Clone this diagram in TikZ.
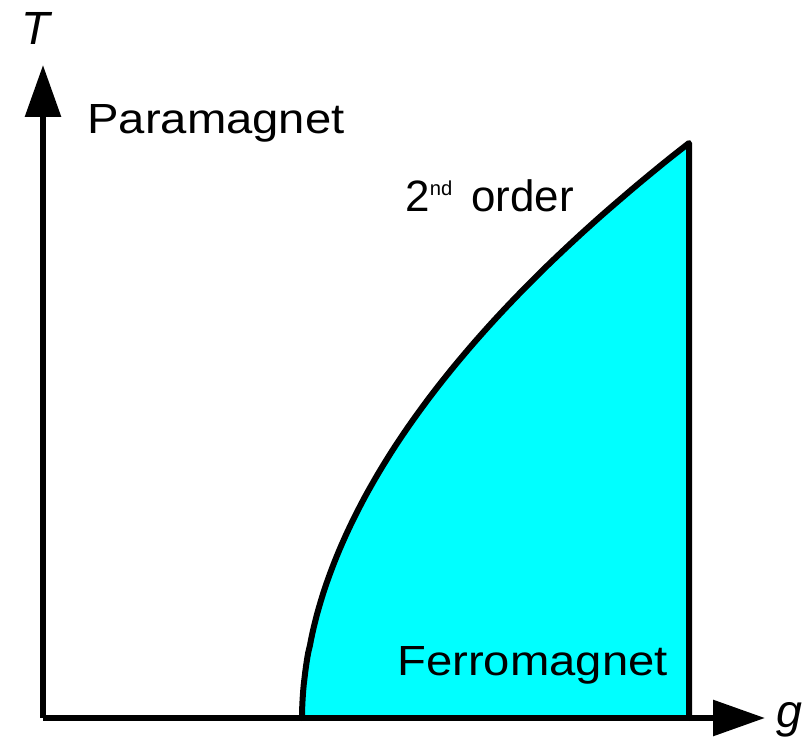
\documentclass[tikz,border=0pt]{standalone}
\usepackage{fontspec}
\setmainfont{Liberation Sans}
\usetikzlibrary{arrows.meta}
\definecolor{ferrocyan}{RGB}{0,255,255}
\tikzset{
  axis/.style={line width=0.12cm, -{Triangle[length=1.04cm,width=0.7cm]}},
  boundary/.style={line width=0.12cm, line join=round, line cap=round},
  phaselabel/.style={font=\fontsize{24}{27}\selectfont, xscale=1.12,
    inner sep=0pt, anchor=base west},
  orderlabel/.style={font=\fontsize{25}{28}\selectfont,
    inner sep=0pt, anchor=base west},
  axislabel/.style={font=\fontsize{26.5}{29}\selectfont\itshape,
    inner sep=0pt, anchor=base west}
}
\begin{document}
\begin{tikzpicture}[x=0.02cm, y=0.02cm]
  \useasboundingbox (0,0) rectangle (810,740);

  \coordinate (O) at (43,22);
  \coordinate (ymax) at (43,675);
  \coordinate (xmax) at (765,22);
  \coordinate (gc) at (302,22);
  \coordinate (top) at (689,597);
  \coordinate (bot) at (689,22);

  \fill[ferrocyan] (gc) -- plot[domain=0.002:1, samples=90]
    ({302+387*\x^1.9}, {22+575*\x}) -- (bot) -- cycle;
  \draw[boundary] (gc) -- plot[domain=0.002:1, samples=90]
    ({302+387*\x^1.9}, {22+575*\x}) -- (top) -- (bot);

  \draw[axis] (O) -- (ymax);
  \draw[axis] (O) -- (xmax);

  \node[axislabel] (Tlab) at (21,695) {T};
  \node[axislabel] (glab) at (776,13) {g};
  \node[phaselabel] (para) at (87,606) {Paramagnet};
  \node[phaselabel] (ferro) at (397,65) {Ferromagnet};
  \node[orderlabel] (order) at (405,528)
    {2\raisebox{9.6pt}{\fontsize{11.5}{12}\selectfont nd}\hspace{4pt} order};
\end{tikzpicture}
\end{document}
